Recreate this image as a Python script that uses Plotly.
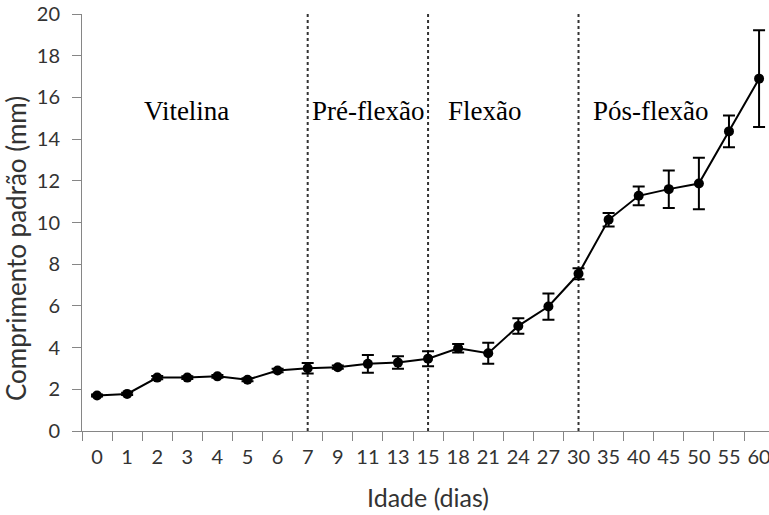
import plotly.graph_objects as go

# Data
ages = ["0", "1", "2", "3", "4", "5", "6", "7", "9", "11", "13", "15", "18", "21",
        "24", "27", "30", "35", "40", "45", "50", "55", "60"]
length_mm = [1.70, 1.78, 2.56, 2.56, 2.62, 2.46, 2.90, 3.01, 3.06, 3.22, 3.28, 3.47,
             3.97, 3.73, 5.04, 5.97, 7.54, 10.13, 11.28, 11.60, 11.87, 14.37, 16.90]
error_mm = [0.05, 0.05, 0.08, 0.06, 0.07, 0.07, 0.08, 0.25, 0.08, 0.43, 0.30, 0.36,
            0.20, 0.50, 0.37, 0.63, 0.26, 0.32, 0.45, 0.90, 1.24, 0.76, 2.32]
stage_boundaries = ["7", "15", "30"]
stage_names = ["Vitelina", "Pré-flexão", "Flexão", "Pós-flexão"]
stage_label_x = [2.97, 9.0, 12.9, 18.4]
stage_label_y = [15.35, 15.35, 15.35, 15.35]

W, H = 769, 515
ML, MR, MT, MB = 82, 0, 14, 84
axis_gray = "#868686"
text_gray = "#333333"

fig = go.Figure()
fig.add_trace(go.Scatter(
    x=ages, y=length_mm,
    mode="lines+markers",
    line=dict(color="black", width=2),
    marker=dict(color="black", size=10),
    error_y=dict(type="data", array=error_mm, visible=True,
                 color="black", thickness=2, width=6),
    cliponaxis=False,
    showlegend=False,
))

shapes = []
for b in stage_boundaries:
    xi = ages.index(b)
    shapes.append(dict(type="line", xref="x", yref="y", x0=xi, x1=xi, y0=0, y1=20,
                       line=dict(color="#333333", width=2, dash="dot"), layer="below"))

annotations = []
for name, xx, yy in zip(stage_names, stage_label_x, stage_label_y):
    annotations.append(dict(text=name, x=xx, y=yy, xref="x", yref="y",
                            showarrow=False, xanchor="center", yanchor="middle",
                            font=dict(family="Liberation Serif", size=27, color="black")))

plot_h = H - MT - MB
plot_w = W - ML - MR
annotations.append(dict(text="Comprimento padrão (mm)", textangle=-90,
                        x=(16 - ML) / plot_w, y=(H - MB - 249) / plot_h,
                        xref="paper", yref="paper", showarrow=False,
                        xanchor="center", yanchor="middle",
                        font=dict(family="Lato", size=26, color=text_gray)))
annotations.append(dict(text="Idade (dias)",
                        x=(428 - ML) / plot_w, y=(H - MB - 497) / plot_h,
                        xref="paper", yref="paper", showarrow=False,
                        xanchor="center", yanchor="middle",
                        font=dict(family="Lato", size=25, color=text_gray)))

fig.update_layout(
    width=W, height=H,
    margin=dict(l=ML, r=MR, t=MT, b=MB, autoexpand=False),
    paper_bgcolor="white", plot_bgcolor="white",
    shapes=shapes, annotations=annotations,
    xaxis=dict(type="category", categoryorder="array", categoryarray=ages,
               range=[-0.5, 22.33], tickson="boundaries", tickangle=0,
               automargin=False,
               showline=True, linecolor=axis_gray, linewidth=1,
               ticks="outside", ticklen=9, tickcolor=axis_gray, tickwidth=1,
               showgrid=False, zeroline=False, ticklabelstandoff=8,
               tickfont=dict(family="Lato", size=20, color=text_gray)),
    yaxis=dict(range=[0, 20], dtick=2, tick0=0, automargin=False,
               showline=True, linecolor=axis_gray, linewidth=1,
               ticks="outside", ticklen=9, tickcolor=axis_gray, tickwidth=1,
               showgrid=False, zeroline=False, ticklabelstandoff=8,
               tickfont=dict(family="Lato", size=20, color=text_gray)),
)

fig.write_html("out.html",
               config={"displayModeBar": False},
               post_script="document.body.style.margin='0';document.body.style.overflow='hidden';")
